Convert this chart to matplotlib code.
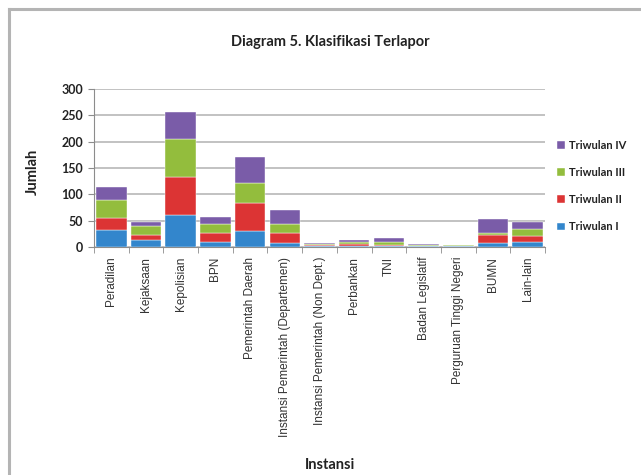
"""
Diagram 5. Klasifikasi Terlapor - stacked bars per instansi
"""

import numpy as np
import matplotlib
matplotlib.use('Agg')
import matplotlib.pyplot as plt
from matplotlib.lines import Line2D

categories = ['Peradilan', 'Kejaksaan', 'Kepolisian', 'BPN', 'Pemerintah Daerah',
              'Instansi Pemerintah (Departemen)', 'Instansi Pemerintah (Non Dept.)',
              'Perbankan', 'TNI', 'Badan Legislatif', 'Perguruan Tinggi Negeri',
              'BUMN', 'Lain-lain']

triwulan_1 = [32, 14, 60, 10, 30, 8, 1, 2, 2, 1, 1, 7, 10]
triwulan_2 = [24, 8, 72, 17, 53, 19, 2, 3, 2, 1, 1, 15, 10]
triwulan_3 = [33, 18, 73, 17, 39, 16, 2, 4, 6, 2, 1, 4, 15]
triwulan_4 = [25, 8, 52, 13, 48, 28, 3, 5, 8, 2, 1, 28, 13]

series_names = ['Triwulan I', 'Triwulan II', 'Triwulan III', 'Triwulan IV']
colors = ['#3386cc', '#dc3434', '#93bd3d', '#7a5ca8']

bold_font = ['Lato', 'DejaVu Sans']
label_font = ['Liberation Sans', 'DejaVu Sans']

fig = plt.figure(figsize=(6.41, 4.75), dpi=100)
fig.patch.set_facecolor('white')

# outer chart border (only left and top are visible in the crop)
fig.add_artist(Line2D([9 / 641, 9 / 641], [0, 1 - 9 / 475], transform=fig.transFigure,
                      color='#b4b4b4', linewidth=2.2))
fig.add_artist(Line2D([9 / 641, 1], [1 - 9 / 475, 1 - 9 / 475], transform=fig.transFigure,
                      color='#b4b4b4', linewidth=2.2))

ax = fig.add_axes([94 / 641, 1 - 247 / 475, 451 / 641, 158 / 475])

x = np.arange(len(categories))
bottom = np.zeros(len(categories))
for name, vals, col in zip(series_names, [triwulan_1, triwulan_2, triwulan_3, triwulan_4], colors):
	ax.bar(x, vals, width=0.88, bottom=bottom, color=col, label=name,
	       edgecolor='white', linewidth=0.3, zorder=3)
	bottom += np.array(vals)

ax.set_xlim(-0.5, len(categories) - 0.5)
ax.set_ylim(0, 300)
ax.set_yticks(range(0, 301, 50))
ax.grid(axis='y', color='#b8b8b8', linewidth=1.2, zorder=0)

for side in ['top', 'right']:
	ax.spines[side].set_visible(False)
ax.spines['left'].set_color('#8c8c8c')
ax.spines['bottom'].set_color('#8c8c8c')

# ticks between categories, like the spreadsheet style
ax.set_xticks(np.arange(-0.5, len(categories), 1), minor=True)
ax.set_xticks(x)
ax.set_xticklabels(categories, rotation=90, family=label_font, fontsize=8.5, color='#333333')
ax.tick_params(axis='x', which='major', length=0, pad=7)
ax.tick_params(axis='x', which='minor', length=4, color='#8c8c8c')
ax.tick_params(axis='y', length=4, color='#8c8c8c', pad=4)
for lab in ax.get_yticklabels():
	lab.set_family(bold_font)
	lab.set_fontweight('bold')
	lab.set_fontsize(9)
	lab.set_color('#222222')

fig.text(330 / 641, 1 - 42 / 475, 'Diagram 5. Klasifikasi Terlapor', ha='center', va='center',
         family=bold_font, fontweight='bold', fontsize=10.5, color='#222222')
fig.text(33 / 641, 1 - 172 / 475, 'Jumlah', rotation=90, ha='center', va='center',
         family=bold_font, fontweight='bold', fontsize=10.5, color='#222222')
fig.text(330 / 641, 1 - 465 / 475, 'Instansi', ha='center', va='center',
         family=bold_font, fontweight='bold', fontsize=10.5, color='#222222')

handles, labels = ax.get_legend_handles_labels()
leg = fig.legend(handles[::-1], labels[::-1], loc='upper left',
                 bbox_to_anchor=(547 / 641, 1 - 130 / 475), frameon=False,
                 prop={'family': bold_font, 'weight': 'bold', 'size': 8},
                 handlelength=0.7, handleheight=0.7, handletextpad=0.4, labelspacing=1.45)
for t in leg.get_texts():
	t.set_color('#222222')

fig.savefig('out.png', dpi=100, facecolor='white')
